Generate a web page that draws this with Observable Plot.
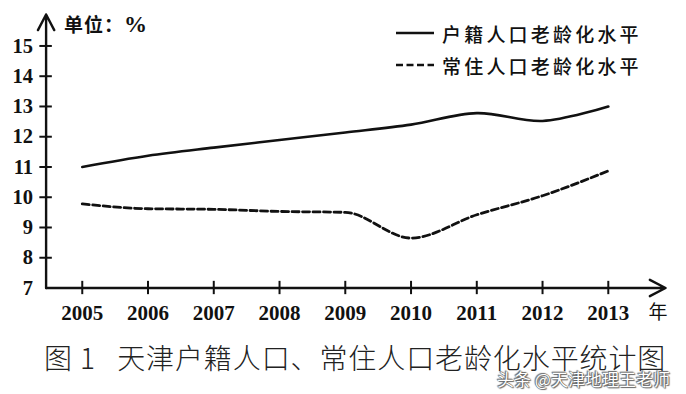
<!DOCTYPE html>
<html><head><meta charset="utf-8">
<script src="https://cdn.jsdelivr.net/npm/d3@7"></script>
<script src="https://cdn.jsdelivr.net/npm/@observablehq/plot@0.6"></script>
<style>
body{margin:0;background:#fff;width:686px;height:394px;overflow:hidden;position:relative;font-family:"Noto Sans CJK SC",sans-serif;}
#chart{position:absolute;left:0;top:0;}
#unit{position:absolute;left:64px;top:10px;font-size:19px;font-weight:700;color:#111;letter-spacing:1px;}
#unit span{font-family:"Liberation Serif",serif;font-size:23px;}
.leg{position:absolute;left:396px;height:24px;display:flex;align-items:center;font-size:19px;font-weight:500;letter-spacing:3.2px;color:#111;}
.leg svg{margin-right:8px;}
#caption{position:absolute;left:44px;top:337px;font-size:28px;font-weight:300;color:#222;white-space:pre;letter-spacing:0.9px;}
#wm{position:absolute;left:497px;top:366px;font-size:17px;color:#fff;white-space:pre;
 text-shadow:0 0 1px #555,0 0 1px #555,1px 1px 1px #666,-1px -1px 1px #666;}
</style></head><body>
<div id="chart"></div>
<div id="unit">单位：<span>%</span></div>
<div class="leg" style="top:21px"><svg width="38" height="6"><line x1="0" y1="3" x2="38" y2="3" stroke="#111" stroke-width="2.6"/></svg><span id="leg0"></span></div>
<div class="leg" style="top:53px"><svg width="38" height="6"><line x1="0" y1="3" x2="38" y2="3" stroke="#111" stroke-width="2.6" stroke-dasharray="7,3.5"/></svg><span id="leg1"></span></div>
<div id="caption">图 1   天津户籍人口、常住人口老龄化水平统计图</div>
<div id="wm">头条 @天津地理王老师</div>
<script>
const years = [2005, 2006, 2007, 2008, 2009, 2010, 2011, 2012, 2013];
const huji = [11.0, 11.37, 11.64, 11.89, 12.14, 12.4, 12.78, 12.52, 13.0];
const changzhu = [9.78, 9.62, 9.6, 9.53, 9.5, 8.65, 9.42, 10.05, 10.87];
const yTicks = [7, 8, 9, 10, 11, 12, 13, 14, 15];
const seriesNames = ["户籍人口老龄化水平", "常住人口老龄化水平"];
const xLabelUnit = "年";

document.getElementById("leg0").textContent = seriesNames[0];
document.getElementById("leg1").textContent = seriesNames[1];

const xLo = 2004.45, xHi = 2013.87, yLo = 7, yHi = 16.04;
const tx = 0.095, ty = 0.22;

const chart = Plot.plot({
  width: 686, height: 335,
  marginLeft: 45.6, marginRight: 21, marginTop: 14, marginBottom: 47.5,
  x: {domain: [xLo, xHi]},
  y: {domain: [yLo, yHi]},
  style: {fontFamily: "'Liberation Serif', serif", fontWeight: "bold", color: "#111", background: "transparent"},
  marks: [
    Plot.arrow([0], {x1: xLo, y1: yLo, x2: xHi, y2: yLo, stroke: "#111", strokeWidth: 2.4, headLength: 11, headAngle: 55}),
    Plot.arrow([0], {x1: xLo, y1: yLo, x2: xLo, y2: yHi, stroke: "#111", strokeWidth: 2.4, headLength: 11, headAngle: 55}),
    Plot.ruleX(years, {x: d => d, y1: yLo - ty, y2: yLo + ty, stroke: "#111", strokeWidth: 2}),
    Plot.ruleY(yTicks.slice(1), {y: d => d, x1: xLo - tx, x2: xLo + tx, stroke: "#111", strokeWidth: 2}),
    Plot.axisY(yTicks, {tickSize: 0, tickPadding: 13, fontSize: 20.5, fontWeight: "bold", tickFormat: d => String(d)}),
    Plot.axisX(years, {tickSize: 0, tickPadding: 17, fontSize: 21, fontWeight: "bold", tickFormat: d => String(d)}),
    Plot.text([xLabelUnit], {frameAnchor: "bottom-right", dx: 2, dy: 31, fontSize: 19, fontFamily: "'Noto Sans CJK SC'", fontWeight: "normal"}),
    Plot.line(years, {x: d => d, y: (d, i) => huji[i], curve: "catmull-rom", stroke: "#111", strokeWidth: 2.6}),
    Plot.line(years, {x: d => d, y: (d, i) => changzhu[i], curve: "monotone-x", stroke: "#111", strokeWidth: 2.8, strokeDasharray: "7,3.5"})
  ]
});
document.getElementById("chart").appendChild(chart);
</script>
</body></html>
